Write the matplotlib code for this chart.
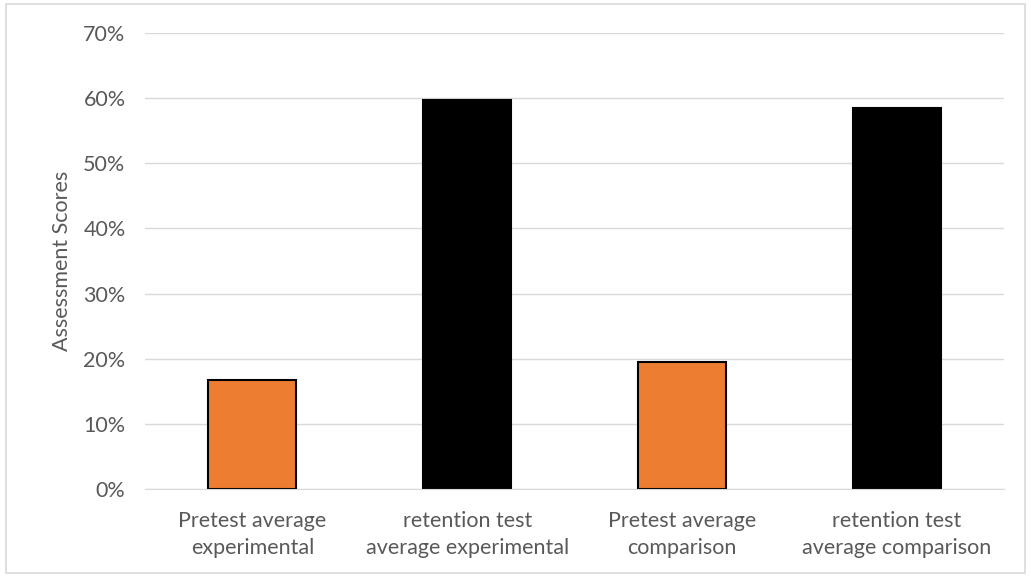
import matplotlib.pyplot as plt
from matplotlib.patches import Rectangle
from matplotlib.ticker import PercentFormatter

# Average assessment scores per group
categories = ['Pretest average\nexperimental', 'retention test\naverage experimental',
              'Pretest average\ncomparison', 'retention test\naverage comparison']
scores = [0.168, 0.597, 0.195, 0.585]
colors = ['#ED7D31', '#000000', '#ED7D31', '#000000']

plt.rcParams['font.family'] = ['Lato', 'DejaVu Sans']

fig = plt.figure(figsize=(10.31, 5.77), dpi=100)
ax = fig.add_axes([0.1406, 0.1525, 0.8334, 0.7903])

ax.bar(range(len(scores)), scores, width=0.41, color=colors,
       edgecolor='black', linewidth=1.5, zorder=3)

ax.set_xlim(-0.5, len(scores) - 0.5)
ax.set_ylim(0, 0.70)
ax.set_yticks([i / 10 for i in range(8)])
ax.yaxis.set_major_formatter(PercentFormatter(1.0, decimals=0))
ax.set_xticks(range(len(scores)))
ax.set_xticklabels(categories, linespacing=1.45)

ax.grid(axis='y', color='#d9d9d9', linewidth=1, zorder=0)
for side in ['top', 'right', 'left']:
    ax.spines[side].set_visible(False)
ax.spines['bottom'].set_color('#d9d9d9')
ax.spines['bottom'].set_zorder(4)
ax.tick_params(axis='both', length=0, colors='#595959', labelsize=15.5)
ax.tick_params(axis='x', pad=16)
ax.tick_params(axis='y', pad=14)

ax.set_ylabel('Assessment Scores', fontsize=15.5, color='#595959', labelpad=8)

# light frame round the whole chart
fig.patches.append(Rectangle((0.006, 0.007), 0.988, 0.986, transform=fig.transFigure,
                             fill=False, edgecolor='#d9d9d9', linewidth=1.2))

fig.savefig('out.png', dpi=100)
